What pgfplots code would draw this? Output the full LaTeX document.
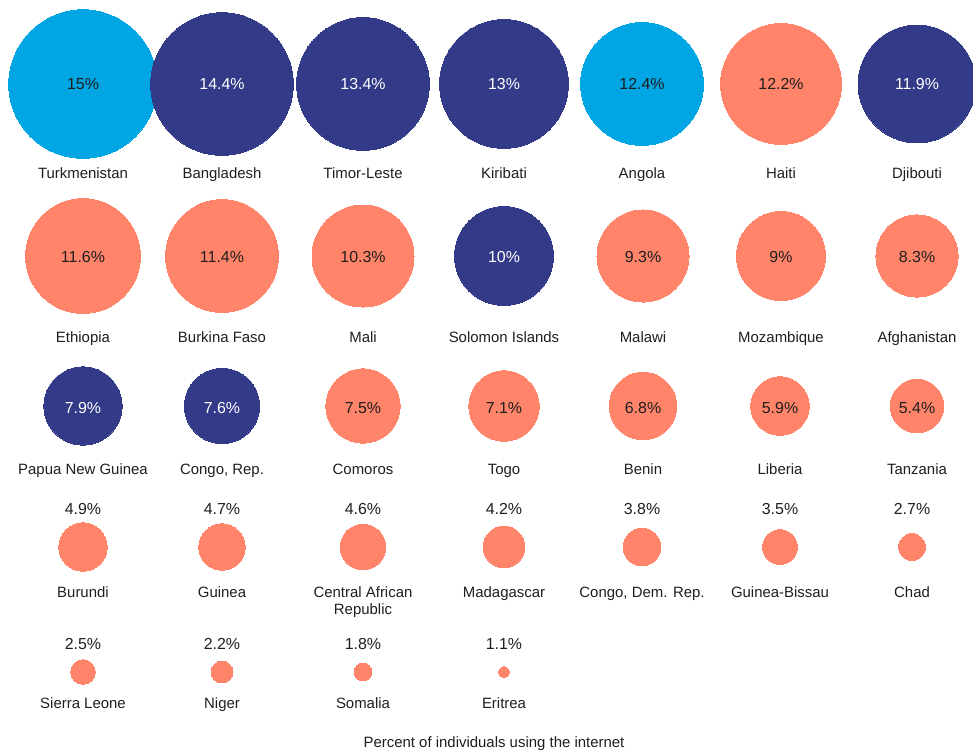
\documentclass[border=0pt]{standalone}
\usepackage{fontspec}
\setmainfont{Liberation Sans}
\usepackage{pgfplots}
\pgfplotsset{compat=1.18}
\definecolor{cblue}{HTML}{00A6E4}
\definecolor{cnavy}{HTML}{333A88}
\definecolor{csalmon}{HTML}{FF846A}
\definecolor{txt}{HTML}{1E1E1E}
\begin{document}
\begin{tikzpicture}
\begin{axis}[
  width=973bp, height=753bp, scale only axis,
  xmin=0, xmax=973, ymin=0, ymax=753, y dir=reverse,
  hide axis, clip=false,
  circ/.style={scatter, only marks, mark=*,
    scatter/use mapped color={draw=#1, fill=#1},
    mark options={line width=0pt},
    visualization depends on={4.97*\thisrow{v} \as \rad},
    scatter/@pre marker code/.append style={/tikz/mark size=\rad}},
  lab/.style={only marks, mark=none, nodes near coords, point meta=explicit symbolic,
    every node near coord/.append style={anchor=base, inner sep=0pt, text=#1, font=\fontsize{15}{18}\selectfont}},
  val/.style={only marks, mark=none, nodes near coords, point meta=explicit symbolic,
    every node near coord/.append style={anchor=base, inner sep=0pt, text=#1, font=\fontsize{16}{19}\selectfont}},
]
% light blue circles
\addplot[circ=cblue] table {
x y v
83 84 15
642 84 12.4
};
% navy circles
\addplot[circ=cnavy] table {
x y v
222 84 14.4
363 84 13.4
504 84 13
917 84 11.9
504 256 10
83 406 7.9
222 406 7.6
};
% salmon circles
\addplot[circ=csalmon] table {
x y v
781 84 12.2
83 256 11.6
222 256 11.4
363 256 10.3
643 256 9.3
781 256 9
917 256 8.3
363 406 7.5
504 406 7.1
643 406 6.8
780 406 5.9
917 406 5.4
83 547 4.9
222 547 4.7
363 547 4.6
504 547 4.2
642 547 3.8
780 547 3.5
912 547 2.7
83 672 2.5
222 672 2.2
363 672 1.8
504 672 1.1
};
% values in white (on navy)
\addplot[val=white] table[col sep=semicolon, meta=t] {
x;y;t
222;90;14.4\%
363;90;13.4\%
504;90;13\%
917;90;11.9\%
504;262;10\%
83;413;7.9\%
222;413;7.6\%
};
% values in dark text
\addplot[val=txt] table[col sep=semicolon, meta=t] {
x;y;t
83;90;15\%
642;90;12.4\%
781;90;12.2\%
83;262;11.6\%
222;262;11.4\%
363;262;10.3\%
643;262;9.3\%
781;262;9\%
917;262;8.3\%
363;413;7.5\%
504;413;7.1\%
643;413;6.8\%
780;413;5.9\%
917;413;5.4\%
83;514;4.9\%
222;514;4.7\%
363;514;4.6\%
504;514;4.2\%
642;514;3.8\%
780;514;3.5\%
912;514;2.7\%
83;649;2.5\%
222;649;2.2\%
363;649;1.8\%
504;649;1.1\%
};
% country names
\addplot[lab=txt] table[col sep=semicolon, meta=t] {
x;y;t
83;179;Turkmenistan
222;179;Bangladesh
363;179;Timor-Leste
504;179;Kiribati
642;179;Angola
781;179;Haiti
917;179;Djibouti
83;342;Ethiopia
222;342;Burkina Faso
363;342;Mali
504;342;Solomon Islands
643;342;Malawi
781;342;Mozambique
917;342;Afghanistan
83;474;Papua New Guinea
222;474;Congo, Rep.
363;474;Comoros
504;474;Togo
643;474;Benin
780;474;Liberia
917;474;Tanzania
83;597;Burundi
222;597;Guinea
363;597;Central African
363;614;Republic
504;597;Madagascar
642;597;Congo, Dem. Rep.
780;597;Guinea-Bissau
912;597;Chad
83;708;Sierra Leone
222;708;Niger
363;708;Somalia
504;708;Eritrea
494;747;Percent of individuals using the internet
};
\end{axis}
\pgfresetboundingbox
\path (current axis.south west) rectangle (current axis.north east);
\end{tikzpicture}
\end{document}
